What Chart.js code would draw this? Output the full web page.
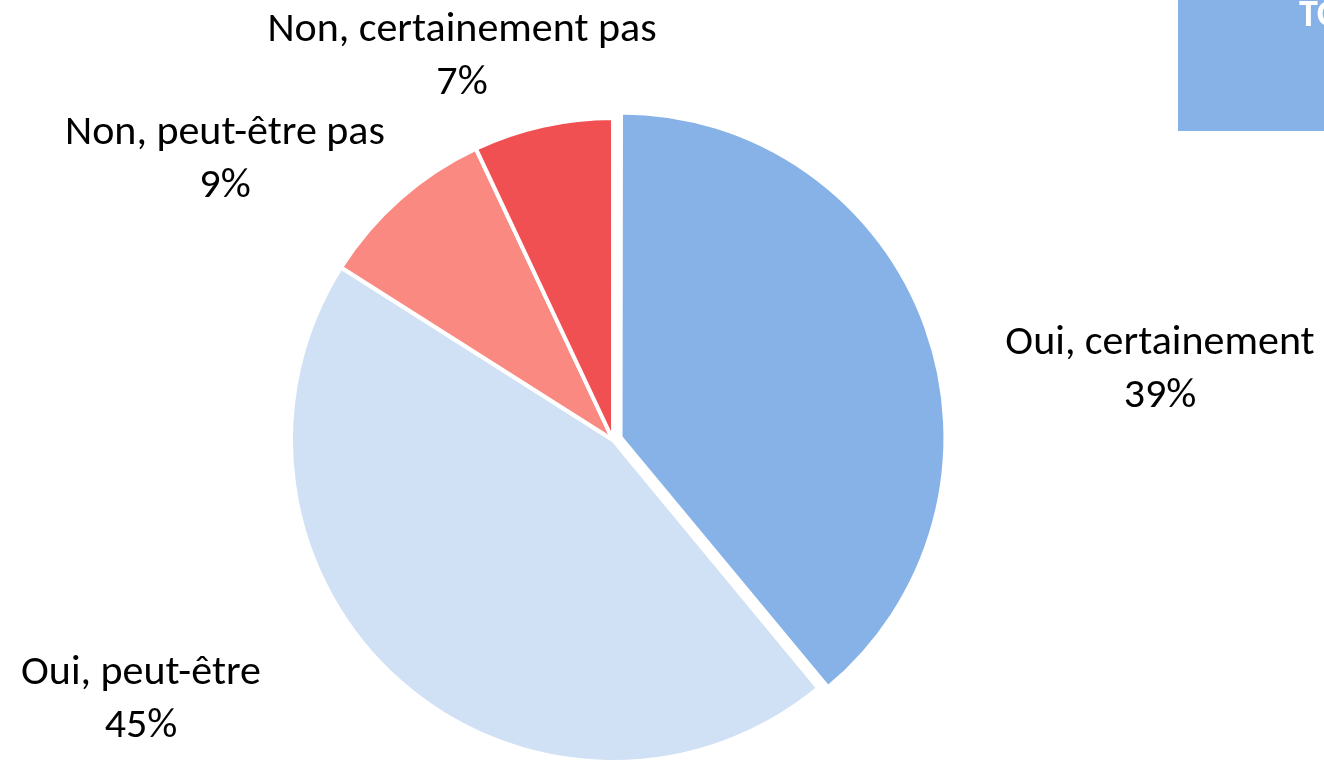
<!DOCTYPE html>
<html>
<head>
<meta charset="utf-8">
<script src="https://cdn.jsdelivr.net/npm/chart.js@4/dist/chart.umd.min.js"></script>
<style>
  html, body { margin: 0; padding: 0; background: #fff; overflow: hidden; }
  canvas { display: block; }
</style>
</head>
<body>
<canvas id="pieChart" width="1324" height="762"></canvas>
<script>
// answers, clockwise from 12 o'clock
var answers = ["Oui, certainement", "Oui, peut-être", "Non, peut-être pas", "Non, certainement pas"];
var shares = [39, 45, 9, 7];
var sliceColors = ["#86B2E7", "#D0E0F5", "#FA8982", "#F15052"];
// arc offset is scaled down by 4 when drawn, so 32 pulls the slice out ~8px
var explode = [32, 0, 0, 0];

// where each data label sits (centre x, baseline of first line)
var labelPos = [[1160, 354], [141, 684], [225, 144], [462, 41]];

var labelFont = "42px Carlito, Lato, sans-serif";
var lineGap = 53;

var cornerBox = {
  id: "cornerBox",
  beforeDraw: function(chart) {
    var ctx = chart.ctx;
    ctx.save();
    ctx.fillStyle = "#86B2E7";
    ctx.fillRect(1178, 0, 146, 131);
    ctx.fillStyle = "#fff";
    ctx.font = "bold 38px Carlito, Lato, sans-serif";
    ctx.textAlign = "left";
    ctx.textBaseline = "alphabetic";
    ctx.fillText("TOTAL", 1299, 26);
    ctx.restore();
  }
};

var sliceLabels = {
  id: "sliceLabels",
  afterDatasetsDraw: function(chart) {
    var ctx = chart.ctx;
    var ds = chart.data.datasets[0];
    ctx.save();
    ctx.font = labelFont;
    ctx.fillStyle = "#000";
    ctx.textAlign = "center";
    ctx.textBaseline = "alphabetic";
    for (var i = 0; i < chart.data.labels.length; i++) {
      var pos = labelPos[i];
      ctx.fillText(chart.data.labels[i], pos[0], pos[1]);
      ctx.fillText(ds.data[i] + "%", pos[0], pos[1] + lineGap);
    }
    ctx.restore();
  }
};

var cx = document.getElementById("pieChart");
var myChart = new Chart(cx, {
  type: "pie",
  data: {
    labels: answers,
    datasets: [{
      data: shares,
      backgroundColor: sliceColors,
      borderColor: "#FFFFFF",
      borderWidth: 4,
      offset: explode,
      clip: false
    }]
  },
  options: {
    responsive: false,
    animation: false,
    radius: 322,
    layout: { padding: { top: 118, bottom: 0, left: 0, right: 98 } },
    plugins: {
      legend: { display: false },
      tooltip: { enabled: false }
    }
  },
  plugins: [cornerBox, sliceLabels]
});
</script>
</body>
</html>
